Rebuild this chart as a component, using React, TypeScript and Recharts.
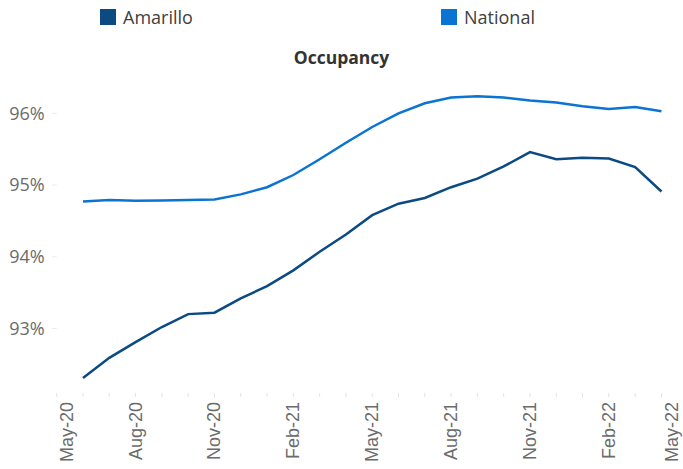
import React from 'react';
import { LineChart, Line, XAxis, YAxis, Legend } from 'recharts';

const months = [
  'May-20', 'Jun-20', 'Jul-20', 'Aug-20', 'Sep-20', 'Oct-20', 'Nov-20', 'Dec-20',
  'Jan-21', 'Feb-21', 'Mar-21', 'Apr-21', 'May-21', 'Jun-21', 'Jul-21', 'Aug-21',
  'Sep-21', 'Oct-21', 'Nov-21', 'Dec-21', 'Jan-22', 'Feb-22', 'Mar-22', 'Apr-22', 'May-22',
];

const amarillo = [
  null, 92.31, 92.59, 92.81, 93.02, 93.2, 93.22, 93.42, 93.59, 93.81, 94.07, 94.31,
  94.58, 94.74, 94.82, 94.97, 95.09, 95.26, 95.46, 95.36, 95.38, 95.37, 95.25, 94.91, null,
];

const national = [
  null, 94.77, 94.79, 94.78, 94.785, 94.79, 94.8, 94.87, 94.97, 95.14, 95.36, 95.59,
  95.81, 96.0, 96.14, 96.22, 96.24, 96.22, 96.18, 96.15, 96.1, 96.06, 96.09, 96.03, null,
];

const yTicks = [93, 94, 95, 96];

const seriesNames = ['Amarillo', 'National'];
const seriesColors = ['#0B4A83', '#0A74D2'];

const data = months.map((m, i) => ({ month: m, Amarillo: amarillo[i], National: national[i] }));

const XTick = (props: any) => {
  const { x, y, payload } = props;
  const i = months.indexOf(payload.value);
  if (i % 3 !== 0) return null;
  const cx = Math.min(Math.max(x, 67), 672);
  return (
    <text
      x={cx}
      y={y}
      transform={`rotate(-90 ${cx} ${y})`}
      textAnchor="end"
      dominantBaseline="central"
      fontFamily="'Liberation Sans', Arial, sans-serif"
      fontSize={18}
      fill="#6b6b6b"
    >
      {payload.value}
    </text>
  );
};

const LegendContent = () => (
  <div style={{ position: 'relative', width: 683, height: 70, fontFamily: "'Open Sans', sans-serif" }}>
    {seriesNames.map((n, i) => (
      <div
        key={n}
        style={{ position: 'absolute', left: i === 0 ? 100 : 441, top: 5, display: 'flex', alignItems: 'center' }}
      >
        <div style={{ width: 16, height: 16, background: seriesColors[i], marginRight: 7 }} />
        <span style={{ fontSize: 18, color: '#404040', lineHeight: '24px' }}>{n}</span>
      </div>
    ))}
    <div
      style={{
        position: 'absolute',
        left: 0,
        width: 683,
        top: 45,
        textAlign: 'center',
        fontWeight: 700,
        fontSize: 17.5,
        color: '#333',
        lineHeight: '24px',
        paddingRight: 3,
      }}
    >
      Occupancy
    </div>
  </div>
);

export default function App() {
  return (
    <div style={{ position: 'absolute', left: 0, top: 0, width: 683, height: 469, background: '#fff' }}>
      <LineChart
        width={683}
        height={469}
        data={data}
        margin={{ top: 7.5, right: -4.75, bottom: 0, left: 0 }}
      >
        <Legend
          verticalAlign="top"
          content={<LegendContent />}
          wrapperStyle={{ top: 0, left: 0, width: 683, height: 70 }}
        />
        <XAxis
          dataKey="month"
          interval={0}
          axisLine={false}
          tickLine={{ stroke: '#e3e3e3' }}
          tickSize={4}
          tickMargin={5}
          height={76}
          tick={<XTick />}
        />
        <YAxis
          domain={[92.1, 96.5]}
          ticks={yTicks}
          width={56.7}
          axisLine={false}
          tickLine={{ stroke: '#ececec' }}
          tickSize={5}
          tickMargin={7}
          tickFormatter={(v: number) => `${v}%`}
          tick={{ fontFamily: "'Open Sans', sans-serif", fontSize: 18, fill: '#6b6b6b' }}
        />
        <Line
          type="linear"
          dataKey="National"
          stroke={seriesColors[1]}
          strokeWidth={2.5}
          dot={false}
          isAnimationActive={false}
        />
        <Line
          type="linear"
          dataKey="Amarillo"
          stroke={seriesColors[0]}
          strokeWidth={2.5}
          dot={false}
          isAnimationActive={false}
        />
      </LineChart>
    </div>
  );
}
